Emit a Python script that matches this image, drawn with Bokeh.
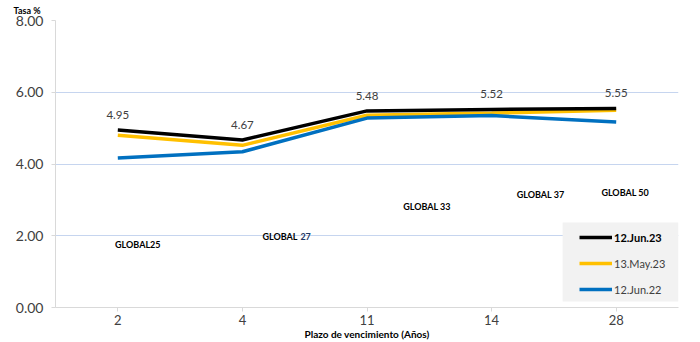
from bokeh.plotting import figure
from bokeh.models import (ColumnDataSource, FactorRange, Range1d, Legend, LegendItem,
                          Label, BoxAnnotation, FixedTicker, NumeralTickFormatter)
from bokeh.core.properties import value
from bokeh.embed import file_html
from bokeh.resources import INLINE

# ---- data ----
plazos = ["2", "4", "11", "14", "28"]
jun23 = [4.95, 4.67, 5.48, 5.52, 5.55]
may23 = [4.80, 4.52, 5.36, 5.42, 5.50]
jun22 = [4.17, 4.34, 5.28, 5.35, 5.17]
series_names = ["12.Jun.23", "13.May.23", "12.Jun.22"]
bonos = ["GLOBAL25", "GLOBAL 27", "GLOBAL 33", "GLOBAL 37", "GLOBAL 50"]
y_ticks = [0, 2, 4, 6, 8]
titulo_eje_y = "Tasa %"
titulo_eje_x = "Plazo de vencimiento (Años)"

FONT = "Lato"
src = ColumnDataSource(dict(x=plazos, jun23=jun23, may23=may23, jun22=jun22,
                            lab=["%.2f" % v for v in jun23]))

p = figure(width=700, height=342, x_range=FactorRange(*plazos, range_padding=0),
           y_range=Range1d(0, 8), output_backend="svg", toolbar_location=None,
           min_border_left=55, min_border_right=22, min_border_top=20,
           min_border_bottom=35, title=titulo_eje_y)
p.outline_line_color = None
p.background_fill_color = "white"
p.border_fill_color = "white"
p.title.align = "left"
p.title.vertical_align = "top"
p.title.offset = -42
p.title.text_font = FONT
p.title.text_font_size = "9px"
p.title.text_font_style = "bold"
p.title.text_color = "black"
p.title.standoff = 6

# axes
p.yaxis.ticker = FixedTicker(ticks=y_ticks)
p.yaxis.formatter = NumeralTickFormatter(format="0.00")
for ax in (p.xaxis[0], p.yaxis[0]):
    ax.axis_line_color = "#d9d9d9"
    ax.major_tick_line_color = "#d9d9d9"
    ax.minor_tick_line_color = None
    ax.major_tick_in = 0
    ax.major_tick_out = 4
    ax.major_label_text_font = FONT
    ax.major_label_text_font_size = "14px"
    ax.major_label_text_color = "#404040"
p.yaxis.major_label_standoff = 8
p.xaxis.major_label_standoff = 3
p.xaxis.major_label_text_font_size = "13px"
p.xaxis.axis_label = titulo_eje_x
p.xaxis.axis_label_standoff = 0
p.xaxis.axis_label_text_font = FONT
p.xaxis.axis_label_text_font_size = "10px"
p.xaxis.axis_label_text_font_style = "bold"
p.xaxis.axis_label_text_color = "black"
p.xgrid.grid_line_color = None
p.ygrid.grid_line_color = "#c6d5ef"
p.ygrid.grid_line_width = 1

# lines
r1 = p.line("x", "jun23", source=src, line_color="black", line_width=3.5)
r2 = p.line("x", "may23", source=src, line_color="#ffc000", line_width=3.5)
r3 = p.line("x", "jun22", source=src, line_color="#0070c0", line_width=3.5)
p.renderers.remove(r1)
p.renderers.append(r1)

# data labels
p.text("x", "jun23", text="lab", source=src, y_offset=-11, text_align="center",
       text_baseline="bottom", text_font=value(FONT), text_font_size="11.5px",
       text_color="#404040")

# bond annotations
bsrc = ColumnDataSource(dict(
    x=[plazos[0], plazos[2], plazos[3], plazos[4]],
    y=[1.755, 2.81, 3.15, 3.20],
    t=[bonos[0], bonos[2], bonos[3], bonos[4]],
    dx=[20, 60, 49, 9]))
p.text("x", "y", text="t", x_offset="dx", source=bsrc, text_align="center",
       text_baseline="middle", text_font=value(FONT), text_font_size="9px",
       text_font_style="bold", text_color="black")
g27a, g27b = bonos[1].split(" ")
p.add_layout(Label(x=1.5, y=1.98, x_offset=20, text=g27a, text_align="left",
                   text_baseline="middle", text_font=FONT, text_font_size="9px",
                   text_font_style="bold", text_color="black"))
p.add_layout(Label(x=1.5, y=1.98, x_offset=58, text=g27b, text_align="left",
                   text_baseline="middle", text_font=FONT, text_font_size="9px",
                   text_font_style="bold", text_color="#1f3864"))

# legend box
p.add_layout(BoxAnnotation(left=4.07, right=5.0, bottom=0.167, top=2.37,
                           fill_color="#f2f2f2", fill_alpha=1, line_alpha=0))
dummy = p.line([], [], line_alpha=0)
common = dict(background_fill_alpha=0, border_line_alpha=0, padding=4, spacing=6,
              glyph_width=33, glyph_height=20, label_height=20, label_standoff=2,
              label_text_font=FONT, label_text_font_size="11px",
              label_text_color="#404040", margin=0)
legA = Legend(items=[LegendItem(label=" ", renderers=[dummy]),
                     LegendItem(label=series_names[1], renderers=[r2]),
                     LegendItem(label=series_names[2], renderers=[r3])],
              location=(520, 4), **common)
legB = Legend(items=[LegendItem(label=series_names[0], renderers=[r1])],
              location=(520, 56), **common)
legB.label_text_font_style = "bold"
legB.label_text_color = "black"
p.add_layout(legA)
p.add_layout(legB)

open("out.html", "w").write(file_html(p, INLINE))
